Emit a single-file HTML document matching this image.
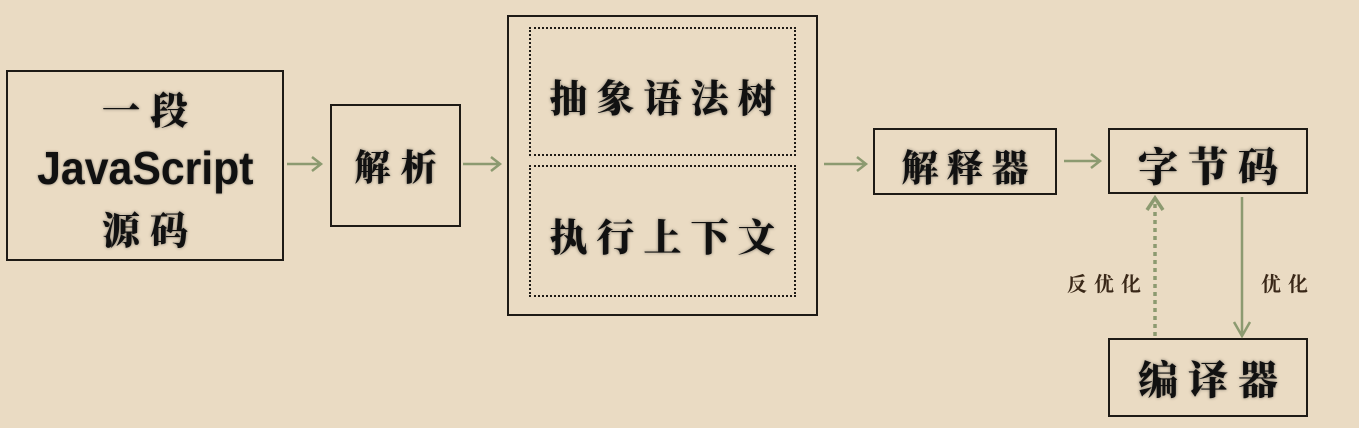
<!DOCTYPE html>
<html><head><meta charset="utf-8"><style>
body{margin:0;width:1359px;height:428px;background:#eadbc3;position:relative;overflow:hidden;font-family:"Liberation Sans","Noto Sans CJK SC",sans-serif;}
.b{position:absolute;border:2px solid #1e1a15;box-sizing:border-box;display:flex;align-items:center;justify-content:center;text-align:center;color:#111;font-weight:bold;text-shadow:0 0 3px rgba(0,0,0,.45);}
.d{border:2px dotted #1e1a15;}
.c{font-family:"Noto Serif CJK SC","Noto Sans CJK SC",serif;font-weight:900;}
.l{position:absolute;color:#3a2818;font-size:20px;font-family:"Noto Serif CJK SC",serif;font-weight:bold;letter-spacing:7px;}
</style></head><body>
<div class="b c" style="left:6px;top:70px;width:278px;height:191px;font-size:38px;line-height:60px;flex-direction:column;padding-top:4px"><div style="letter-spacing:10px;padding-left:10px">一段</div><div style="font-family:'Liberation Sans',sans-serif;font-weight:900;font-size:46px;transform:scaleX(0.93)">JavaScript</div><div style="letter-spacing:10px;padding-left:10px">源码</div></div>
<div class="b c" style="left:330px;top:104px;width:131px;height:123px;font-size:36px;letter-spacing:10px;padding-left:10px">解析</div>
<div class="b" style="left:507px;top:15px;width:311px;height:301px"></div>
<div class="b d c" style="left:529px;top:27px;width:267px;height:129px;font-size:38px;letter-spacing:9px;padding-left:9px;padding-top:8px">抽象语法树</div>
<div class="b d c" style="left:529px;top:165px;width:267px;height:132px;font-size:38px;letter-spacing:9px;padding-left:9px;padding-top:6px">执行上下文</div>
<div class="b c" style="left:873px;top:128px;width:184px;height:67px;font-size:37px;letter-spacing:8px;padding-left:8px;padding-top:6px">解释器</div>
<div class="b c" style="left:1108px;top:128px;width:200px;height:66px;font-size:40px;letter-spacing:10px;padding-left:10px;padding-top:6px">字节码</div>
<div class="b c" style="left:1108px;top:338px;width:200px;height:79px;font-size:40px;letter-spacing:10px;padding-left:10px">编译器</div>
<div class="l" style="left:1067px;top:268px">反优化</div>
<div class="l" style="left:1261px;top:268px">优化</div>
<svg width="1359" height="428" style="position:absolute;left:0;top:0" fill="none" stroke="#8c9a70" stroke-width="2.5">
<path d="M287 164H321M312 157L321 164L312 171"/>
<path d="M463 164H500M491 157L500 164L491 171"/>
<path d="M824 164H866M857 157L866 164L857 171"/>
<path d="M1064 161H1100M1091 154L1100 161L1091 168"/>
<path d="M1155 336V200" stroke-dasharray="4 4" stroke-width="3.5"/>
<path d="M1147 210L1155 198L1163 210" stroke-width="3.5"/>
<path d="M1242 197V336M1234 322L1242 336L1250 322"/>
</svg>
</body></html>
